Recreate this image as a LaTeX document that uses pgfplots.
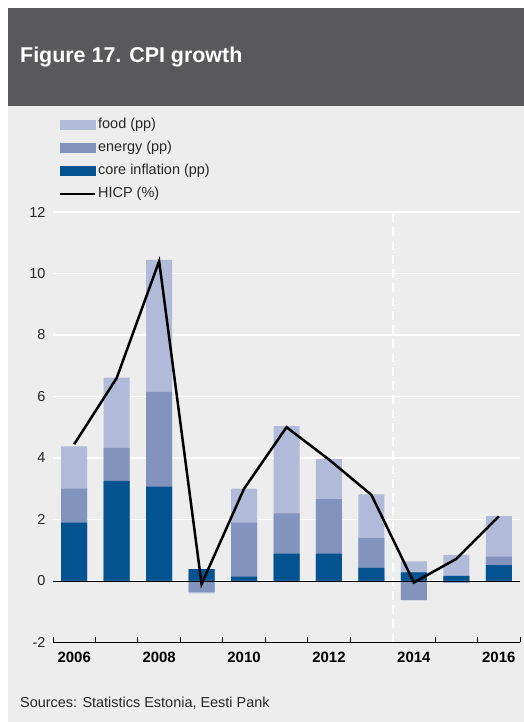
\documentclass[border=0pt]{standalone}
\usepackage{fontspec}
\setmainfont{Liberation Sans}
\usepackage{pgfplots}
\usepackage{pgfplotstable}
\pgfplotsset{compat=1.18}
\definecolor{bg}{HTML}{ECEDEC}
\definecolor{band}{HTML}{59595B}
\definecolor{foodc}{HTML}{B1BBD9}
\definecolor{energyc}{HTML}{8293BD}
\definecolor{corec}{HTML}{02538F}

\pgfplotstableread{
year core energy food hicp
2006 1.90 1.10 1.38 4.45
2007 3.26 1.07 2.28 6.60
2008 3.07 3.08 4.29 10.40
2009 0.39 -0.35 -0.05 -0.10
2010 0.14 1.76 1.10 3.00
2011 0.89 1.31 2.84 5.00
2012 0.89 1.77 1.31 3.95
2013 0.43 0.97 1.42 2.80
2014 0.28 -0.62 0.36 -0.05
2015 0.17 -0.05 0.68 0.72
2016 0.52 0.27 1.32 2.10
}\datatable

\begin{document}
\begin{tikzpicture}
\fill[white] (0bp,0bp) rectangle (524bp,722bp);
\fill[bg] (8bp,0bp) rectangle (524bp,616bp);
\fill[band] (8bp,616bp) rectangle (524bp,714bp);
\node[anchor=west, text=white, font=\bfseries\fontsize{21.5}{24}\selectfont, inner sep=0pt] at (20bp,665bp) {Figure 17. CPI growth};
\node[anchor=base west, font=\fontsize{14.5}{17}\selectfont, inner sep=0pt, text=black!85] at (20bp,15bp) {Sources: Statistics Estonia, Eesti Pank};
\begin{axis}[
  at={(53bp,79.5bp)}, anchor=south west,
  width=467bp, height=430.5bp, scale only axis,
  xmin=2005.5, xmax=2016.5, ymin=-2, ymax=12,
  ytick={-2,0,...,12},
  xtick={2006,2008,...,2016},
  minor xtick={2005.5,2006.5,...,2016.5},
  major tick length=0pt, minor tick length=5bp,
  tick align=inside,
  axis x line*=bottom, axis y line*=left,
  y axis line style={draw=none},
  x axis line style={black, line width=0.8bp},
  minor tick style={black, line width=0.8bp},
  ymajorgrids, grid style={white, line width=1.3bp},
  /pgf/number format/assume math mode=true,
  /pgf/number format/1000 sep={},
  xticklabel style={font=\bfseries\fontsize{15}{18}\selectfont, yshift=-6bp},
  yticklabel style={font=\fontsize{14.5}{17}\selectfont, xshift=-4bp, text=black!85},
  legend cell align=left,
  legend style={at={(axis description cs:0.0128,1.2184)}, anchor=north west,
    draw=none, fill=none, inner sep=0pt, row sep=10bp, column sep=2bp,
    font=\fontsize{14.5}{17}\selectfont, text=black!85,
    nodes={inner sep=0pt, text height=10bp, text depth=3bp}},
]
\addplot[ybar, bar width=26bp, bar shift=0pt, fill=foodc, draw=none,
  legend image code/.code={\fill[foodc] (0bp,-5bp) rectangle (36bp,5bp);}]
  table[x=year, y expr={\thisrow{core}+max(\thisrow{energy},0)+max(\thisrow{food},0)}] {\datatable};
\addlegendentry{food (pp)}
\addplot[ybar, bar width=26bp, bar shift=0pt, fill=energyc, draw=none,
  legend image code/.code={\fill[energyc] (0bp,-5bp) rectangle (36bp,5bp);}]
  table[x=year, y expr={\thisrow{core}+max(\thisrow{energy},0)}] {\datatable};
\addlegendentry{energy (pp)}
\addplot[ybar, bar width=26bp, bar shift=0pt, fill=corec, draw=none,
  legend image code/.code={\fill[corec] (0bp,-5bp) rectangle (36bp,5bp);}]
  table[x=year, y=core] {\datatable};
\addlegendentry{core inflation (pp)}
\addplot[ybar, bar width=26bp, bar shift=0pt, fill=foodc, draw=none, forget plot]
  table[x=year, y expr={min(\thisrow{energy},0)+min(\thisrow{food},0)}] {\datatable};
\addplot[ybar, bar width=26bp, bar shift=0pt, fill=energyc, draw=none, forget plot]
  table[x=year, y expr={min(\thisrow{energy},0)}] {\datatable};
\addplot[white, line width=2bp, dash pattern=on 9bp off 5bp, forget plot] coordinates {(2013.5,-2) (2013.5,12)};
\addplot[black, line width=0.8bp, forget plot] coordinates {(2005.5,0) (2016.5,0)};
\addplot[black, line width=2.5bp, mark=none,
  legend image code/.code={\draw[black, line width=2bp] (0bp,0bp) -- (35bp,0bp);}]
  table[x=year, y=hicp] {\datatable};
\addlegendentry{HICP (\%)}
\end{axis}
\end{tikzpicture}
\end{document}
